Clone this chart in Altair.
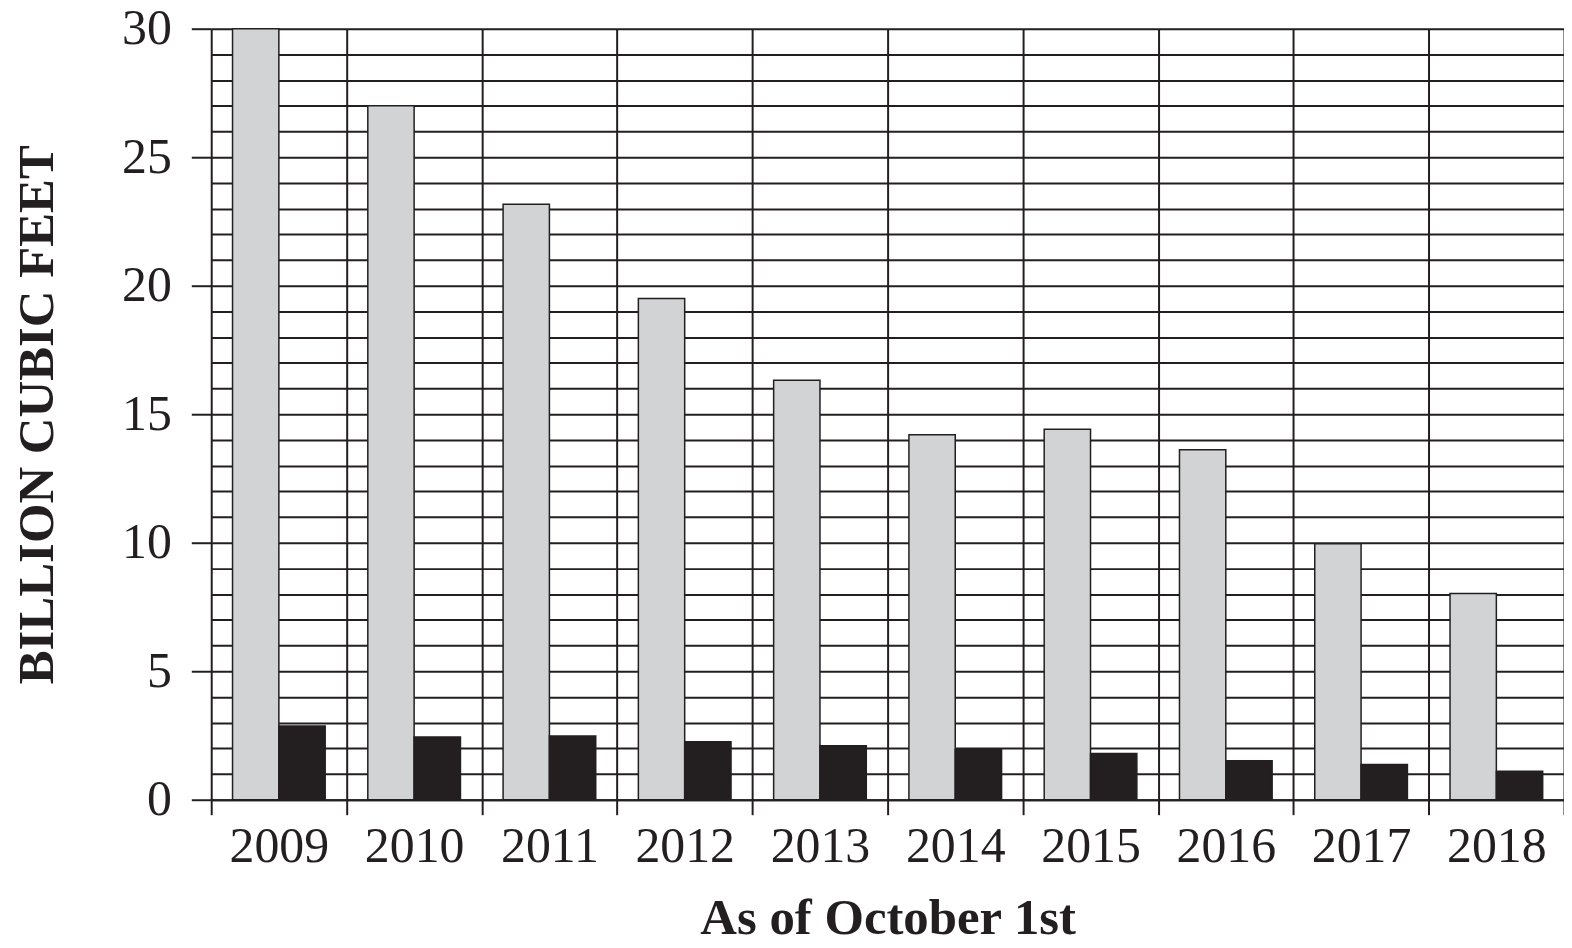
import altair as alt
import pandas as pd

years = ["2009", "2010", "2011", "2012", "2013", "2014", "2015", "2016", "2017", "2018"]
gray_values = [30.0, 27.0, 23.17, 19.5, 16.32, 14.2, 14.42, 13.62, 9.96, 8.02]
black_values = [2.87, 2.44, 2.48, 2.26, 2.1, 1.95, 1.8, 1.52, 1.37, 1.11]
series_names = ["Series 1", "Series 2"]
y_ticks = list(range(0, 31))

rows = []
for i, y in enumerate(years):
    rows.append({"year": y, "series": series_names[0], "value": gray_values[i]})
    rows.append({"year": y, "series": series_names[1], "value": black_values[i]})
df = pd.DataFrame(rows)

ink = "#231f20"
font = "Liberation Serif"

chart = alt.Chart(df).mark_bar(stroke=ink, strokeWidth=1.5).encode(
    x=alt.X(
        "year:N",
        sort=years,
        scale=alt.Scale(paddingInner=0, paddingOuter=0),
        axis=alt.Axis(
            title="As of October 1st",
            labelAngle=0,
            labelFont=font,
            labelFontSize=50,
            labelColor=ink,
            labelPadding=7,
            tickSize=15,
            tickWidth=2,
            tickColor=ink,
            tickBand="extent",
            grid=True,
            gridColor=ink,
            gridWidth=2,
            gridOpacity=1,
            domainColor=ink,
            domainWidth=2,
            titleFont=font,
            titleFontSize=51,
            titleFontWeight="bold",
            titleColor=ink,
            titlePadding=22,
        ),
    ),
    xOffset=alt.XOffset("series:N", sort=series_names,
                        scale=alt.Scale(paddingInner=0, paddingOuter=0.46)),
    y=alt.Y(
        "value:Q",
        scale=alt.Scale(domain=[0, 30], nice=False),
        axis=alt.Axis(
            title="BILLION CUBIC FEET",
            values=y_ticks,
            labelExpr="datum.value % 5 === 0 ? datum.label : ''",
            labelFont=font,
            labelFontSize=50,
            labelColor=ink,
            labelPadding=20,
            tickSize=20,
            tickWidth=2,
            tickColor=ink,
            tickOpacity={"condition": {"test": "datum.value % 5 === 0", "value": 1}, "value": 0},
            grid=True,
            gridColor=ink,
            gridWidth=2,
            gridOpacity=1,
            domain=False,
            titleFont=font,
            titleFontSize=51,
            titleFontWeight="bold",
            titleColor=ink,
            titlePadding=58,
        ),
    ),
    color=alt.Color("series:N", sort=series_names,
                    scale=alt.Scale(domain=series_names, range=["#d1d3d4", ink]),
                    legend=None),
).properties(
    width=1358,
    height=774,
    autosize=alt.AutoSizeParams(type="none"),
    padding={"left": 204, "top": 19, "right": 0, "bottom": 135},
).configure_view(stroke=None).configure(background="white")

chart.save("out.html", embed_options={"renderer": "svg", "actions": False})
